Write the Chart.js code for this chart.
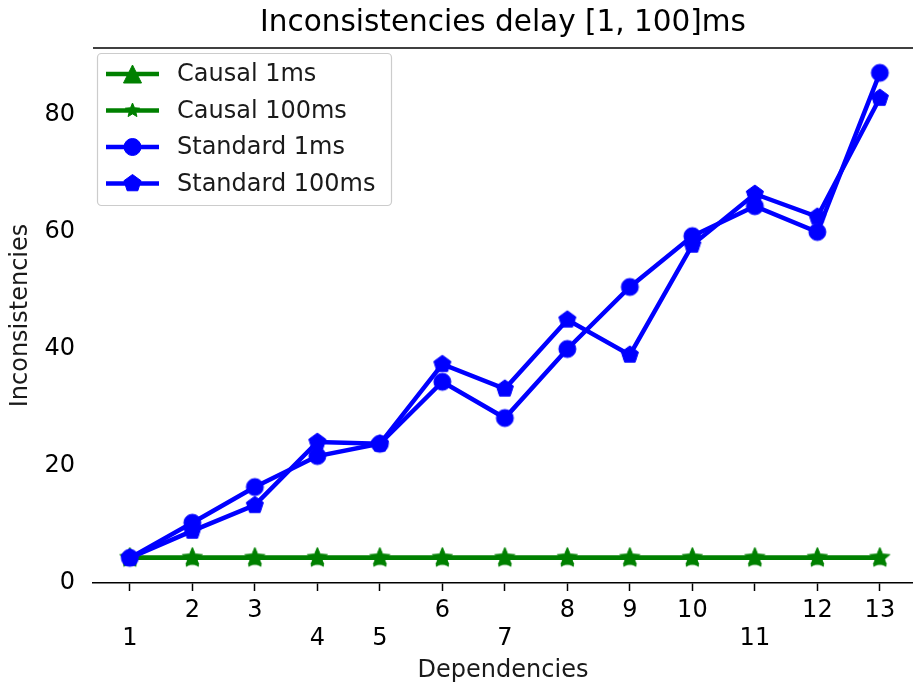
<!DOCTYPE html>
<html>
<head>
<meta charset="utf-8">
<script src="https://cdn.jsdelivr.net/npm/chart.js@4.4.0/dist/chart.umd.min.js"></script>
<style>
html, body { margin: 0; padding: 0; background: #fff; }
#grafico-container { width: 913px; height: 685px; }
</style>
</head>
<body>
<div id="grafico-container"><canvas id="grafico" width="913" height="685"></canvas></div>
<script>
// Dados
const dependencias = [1, 2, 3, 4, 5, 6, 7, 8, 9, 10, 11, 12, 13];
const causal1ms = [4.3, 4.3, 4.3, 4.3, 4.3, 4.3, 4.3, 4.3, 4.3, 4.3, 4.3, 4.3, 4.3];
const causal100ms = [4.3, 4.3, 4.3, 4.3, 4.3, 4.3, 4.3, 4.3, 4.3, 4.3, 4.3, 4.3, 4.3];
const standard1ms = [4.3, 10.3, 16.4, 21.7, 23.8, 34.4, 28.2, 40.0, 50.6, 59.3, 64.4, 60.0, 87.2];
const standard100ms = [4.3, 8.9, 13.3, 24.1, 23.8, 37.4, 33.2, 45.0, 39.0, 57.8, 66.5, 62.6, 82.9];
const yTicks = [0, 20, 40, 60, 80];
const ticksLinhaDeBaixo = [1, 4, 5, 7, 11]; // rótulos do eixo x na segunda linha

const TITULO = "Inconsistencies delay [1, 100]ms";
const VERDE = "#008000";
const AZUL = "#0000ff";
const FONTE = "'DejaVu Sans', sans-serif";

function desenharMarcador(ctx, tipo, x, y, r, cor) {
    ctx.save();
    ctx.fillStyle = cor;
    ctx.strokeStyle = cor;
    ctx.lineWidth = 1;
    ctx.beginPath();
    if (tipo === "circle") {
        ctx.arc(x, y, r, 0, Math.PI * 2);
    } else if (tipo === "triangle") {
        ctx.moveTo(x, y - r);
        ctx.lineTo(x - r, y + r);
        ctx.lineTo(x + r, y + r);
    } else {
        const estrela = tipo === "star";
        const n = estrela ? 10 : 5;
        for (let i = 0; i < n; i++) {
            const ang = -Math.PI / 2 + i * 2 * Math.PI / n;
            const raio = estrela && i % 2 === 1 ? r * 0.45 : r;
            const px = x + raio * Math.cos(ang);
            const py = y + raio * Math.sin(ang);
            if (i === 0) ctx.moveTo(px, py); else ctx.lineTo(px, py);
        }
    }
    ctx.closePath();
    ctx.fill();
    ctx.stroke();
    ctx.restore();
}

function marcadorCanvas(tipo, cor, r) {
    const c = document.createElement("canvas");
    const s = Math.ceil(2 * r + 4);
    c.width = s;
    c.height = s;
    desenharMarcador(c.getContext("2d"), tipo, s / 2, s / 2, r, cor);
    return c;
}

// r = tamanho no gráfico, rl = tamanho na legenda
const series = [
    { label: "Causal 1ms", dados: causal1ms, cor: VERDE, tipo: "triangle", r: 6.5, rl: 9, order: 3 },
    { label: "Causal 100ms", dados: causal100ms, cor: VERDE, tipo: "star", r: 10.5, rl: 7.5, order: 2 },
    { label: "Standard 1ms", dados: standard1ms, cor: AZUL, tipo: "circle", r: 8.5, rl: 8.5, order: 1 },
    { label: "Standard 100ms", dados: standard100ms, cor: AZUL, tipo: "pentagon", r: 9, rl: 9, order: 0 }
];

// Título, moldura de cima e legenda no estilo do matplotlib
const pluginMoldura = {
    id: "moldura",
    afterDraw(chart) {
        const ctx = chart.ctx;
        const area = chart.chartArea;
        ctx.save();
        ctx.fillStyle = "#000";
        ctx.font = "29.5px " + FONTE;
        ctx.textAlign = "center";
        ctx.textBaseline = "middle";
        ctx.fillText(TITULO, (area.left + area.right) / 2, 23);

        ctx.strokeStyle = "#000";
        ctx.lineWidth = 1.5;
        ctx.beginPath();
        ctx.moveTo(area.left, area.top);
        ctx.lineTo(area.right, area.top);
        ctx.stroke();

        // caixa da legenda
        const bx = 97.5, by = 53.5, bw = 294, bh = 152;
        ctx.fillStyle = "rgba(255,255,255,0.8)";
        ctx.strokeStyle = "#cccccc";
        ctx.lineWidth = 1.2;
        ctx.beginPath();
        ctx.roundRect(bx, by, bw, bh, 4);
        ctx.fill();
        ctx.stroke();

        ctx.font = "24px " + FONTE;
        ctx.textBaseline = "middle";
        ctx.textAlign = "left";
        series.forEach((s, i) => {
            const y = 74 + i * 36.5;
            ctx.strokeStyle = s.cor;
            ctx.lineWidth = 4.5;
            ctx.beginPath();
            ctx.moveTo(106, y);
            ctx.lineTo(159, y);
            ctx.stroke();
            desenharMarcador(ctx, s.tipo, 132.5, y, s.rl, s.cor);
            ctx.fillStyle = "#1a1a1a";
            ctx.fillText(s.label, 177, y + 1);
        });
        ctx.restore();
    }
};

const ctx = document.getElementById("grafico").getContext("2d");

new Chart(ctx, {
    type: "line",
    data: {
        datasets: series.map(s => ({
            label: s.label,
            data: dependencias.map((d, i) => ({ x: d, y: s.dados[i] })),
            borderColor: s.cor,
            backgroundColor: s.cor,
            borderWidth: 4.5,
            pointStyle: marcadorCanvas(s.tipo, s.cor, s.r),
            pointRadius: s.r,
            order: s.order,
            fill: false,
            tension: 0
        }))
    },
    options: {
        responsive: false,
        animation: false,
        layout: { autoPadding: false, padding: { top: 48, left: 0, right: 0, bottom: 0 } },
        plugins: {
            legend: { display: false },
            tooltip: { enabled: false },
            title: { display: false }
        },
        scales: {
            x: {
                type: "linear",
                min: 0.41,
                max: 13.53,
                afterBuildTicks: scale => {
                    scale.ticks = dependencias.map(v => ({ value: v }));
                },
                afterFit: scale => {
                    scale.height = 102;
                    scale.paddingLeft = 0;
                    scale.paddingRight = 0;
                },
                ticks: {
                    autoSkip: false,
                    maxRotation: 0,
                    padding: 6,
                    color: "#000",
                    font: { family: FONTE, size: 24, lineHeight: 1.17 },
                    callback: v => ticksLinhaDeBaixo.includes(v) ? ["", String(v)] : String(v)
                },
                grid: {
                    drawOnChartArea: false,
                    drawTicks: true,
                    tickLength: 8,
                    tickWidth: 1.5,
                    tickColor: "#000"
                },
                border: { display: true, color: "#000", width: 1.5 },
                title: {
                    display: true,
                    text: "Dependencies",
                    color: "#1a1a1a",
                    font: { family: FONTE, size: 24, lineHeight: 1.2 },
                    padding: { top: 0, bottom: 0 }
                }
            },
            y: {
                type: "linear",
                min: 0,
                max: 91.45,
                afterBuildTicks: scale => {
                    scale.ticks = yTicks.map(v => ({ value: v }));
                },
                afterFit: scale => {
                    scale.width = 93;
                    scale.paddingTop = 0;
                    scale.paddingBottom = 0;
                },
                ticks: {
                    padding: 18,
                    color: "#000",
                    font: { family: FONTE, size: 24 }
                },
                grid: { display: false, drawTicks: false },
                border: { display: false },
                title: {
                    display: true,
                    text: "Inconsistencies",
                    color: "#1a1a1a",
                    font: { family: FONTE, size: 24, lineHeight: 1.2 },
                    padding: { top: 6, bottom: 0 }
                }
            }
        }
    },
    plugins: [pluginMoldura]
});
</script>
</body>
</html>
